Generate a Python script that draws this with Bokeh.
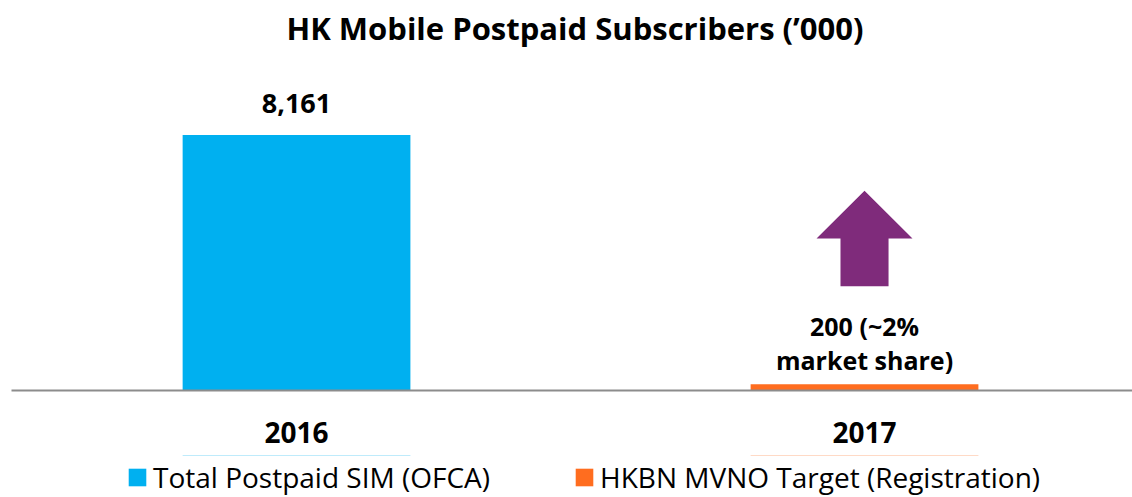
from bokeh.plotting import figure
from bokeh.layouts import column
from bokeh.models import Range1d, FixedTicker, Legend, LegendItem, ColumnDataSource
from bokeh.core.properties import value
from bokeh.embed import file_html
from bokeh.resources import INLINE

# ---- data ----
categories = ["2016", "2017"]
series_names = ["Total Postpaid SIM (OFCA)", "HKBN MVNO Target (Registration)"]
values = [8161, 200]
value_labels = ["8,161", "200 (~2%\nmarket share)"]
colors = ["#00B0F0", "#FF6D1F"]

FONT = "Open Sans"

x_pos = list(range(len(categories)))
src = ColumnDataSource(dict(x=x_pos, top=values, color=colors, label=value_labels))

# ---------------- main chart ----------------
p = figure(width=1132, height=455, output_backend="svg", toolbar_location=None,
           x_range=Range1d(-0.5018, 1.4718), y_range=Range1d(0, 10797),
           min_border_left=11, min_border_right=0, min_border_bottom=65, min_border_top=50,
           outline_line_color=None, y_axis_location=None,
           title="HK Mobile Postpaid Subscribers (\u2019000)")
p.title.text_font = FONT
p.title.text_font_size = "31px"
p.title.text_font_style = "bold"
p.title.align = "left"
p.title.offset = 275
p.title.standoff = 8
p.title.text_color = "#000000"
p.grid.visible = False

p.vbar(x="x", top="top", width=0.401, bottom=0, fill_color="color", line_color=None, source=src)

# value labels
p.text(x=[x_pos[0]], y=[values[0]], text=[value_labels[0]], text_font=value(FONT),
       text_font_size="27px", text_font_style="bold", text_align="center",
       text_baseline="middle", y_offset=-32, text_color="#000000")
p.text(x=[x_pos[1]], y=[values[1]], text=[value_labels[1]], text_font=value(FONT),
       text_font_size="25px", text_font_style="bold", text_align="center",
       text_baseline="middle", y_offset=-41, text_line_height=1.0, text_color="#000000")

# up arrow above the 2017 bar (shape constants in data units)
ax = x_pos[1]
arrow_tip, arrow_neck, arrow_base = 6382, 4858, 3334
head_half, shaft_half = 0.0845, 0.0423
p.patch(x=[ax, ax + head_half, ax + shaft_half, ax + shaft_half, ax - shaft_half, ax - shaft_half, ax - head_half],
        y=[arrow_tip, arrow_neck, arrow_neck, arrow_base, arrow_base, arrow_neck, arrow_neck],
        fill_color="#7F2B7B", line_color=None)

xa = p.xaxis[0]
xa.ticker = FixedTicker(ticks=x_pos)
xa.major_label_overrides = {i: c for i, c in zip(x_pos, categories)}
xa.major_tick_line_color = None
xa.minor_tick_line_color = None
xa.axis_line_color = "#8C8C8C"
xa.axis_line_width = 2
xa.major_label_text_font = FONT
xa.major_label_text_font_size = "28px"
xa.major_label_text_font_style = "bold"
xa.major_label_text_color = "#000000"
xa.major_label_standoff = 25

# ---------------- legend strip ----------------
lg = figure(width=1132, height=42, output_backend="svg", toolbar_location=None,
            x_range=Range1d(-0.5018, 1.4718), y_range=Range1d(-20000, -10000),
            min_border=0, outline_line_color=None,
            x_axis_location=None, y_axis_location=None)
lg.grid.visible = False
lr = lg.vbar(x="x", top="top", width=0.401, bottom=0, fill_color="color", line_color=None, source=src)

legend = Legend(items=[LegendItem(label=series_names[i], renderers=[lr], index=i) for i in range(2)],
                orientation="horizontal", location=(115, 1),
                label_text_font=FONT, label_text_font_size="28px", label_text_color="#000000",
                glyph_width=22, glyph_height=22, label_standoff=5, spacing=83,
                padding=0, margin=0, border_line_color=None, background_fill_alpha=0)
lg.add_layout(legend, "center")

layout = column(p, lg)
open("out.html", "w").write(file_html(layout, INLINE))
